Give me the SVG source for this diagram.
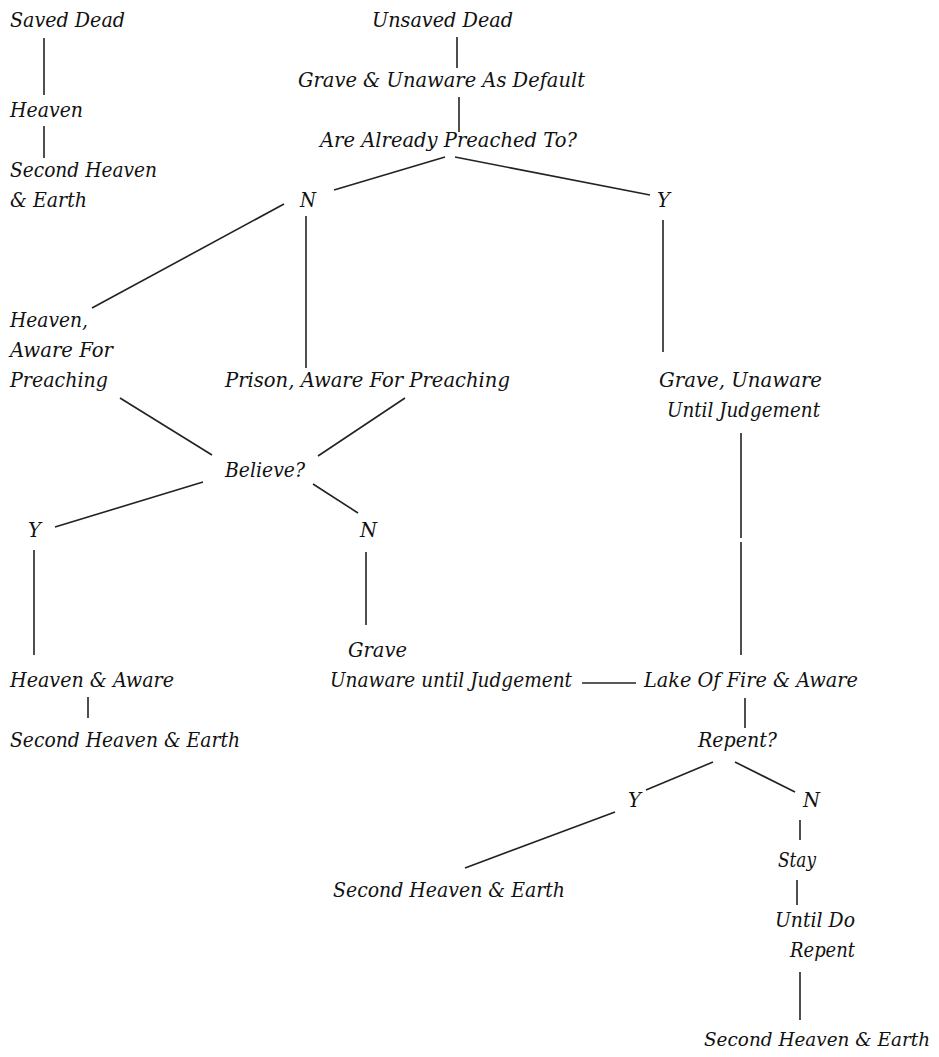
<svg xmlns="http://www.w3.org/2000/svg" width="939" height="1057" viewBox="0 0 939 1057">
<style>
text{font-family:"DejaVu Serif","Liberation Serif",serif;font-style:italic;font-size:20px;fill:#111}
.c line{stroke:#222;stroke-width:1.6}
</style>
<rect width="939" height="1057" fill="#fff"/>
<g class="c" id="connectors">
<line x1="44" y1="38" x2="44" y2="95"/>
<line x1="44" y1="126" x2="44" y2="158"/>
<line x1="457" y1="37" x2="457" y2="68"/>
<line x1="459" y1="97" x2="459" y2="132"/>
<line x1="445" y1="157" x2="334" y2="190"/>
<line x1="455" y1="157" x2="650" y2="195"/>
<line x1="663" y1="220" x2="663" y2="352"/>
<line x1="284" y1="204" x2="92" y2="308"/>
<line x1="306" y1="216" x2="306" y2="368"/>
<line x1="120" y1="398" x2="212" y2="455"/>
<line x1="405" y1="398" x2="318" y2="456"/>
<line x1="203" y1="482" x2="55" y2="527"/>
<line x1="313" y1="484" x2="358" y2="513"/>
<line x1="34" y1="550" x2="34" y2="655"/>
<line x1="366" y1="552" x2="366" y2="625"/>
<line x1="88" y1="697" x2="88" y2="718"/>
<line x1="741" y1="433" x2="741" y2="538"/>
<line x1="741" y1="542" x2="741" y2="655"/>
<line x1="582" y1="683" x2="636" y2="683"/>
<line x1="745" y1="698" x2="745" y2="728"/>
<line x1="713" y1="762" x2="646" y2="790"/>
<line x1="735" y1="762" x2="795" y2="792"/>
<line x1="615" y1="812" x2="465" y2="868"/>
<line x1="800" y1="820" x2="800" y2="840"/>
<line x1="797" y1="880" x2="797" y2="905"/>
<line x1="800" y1="972" x2="800" y2="1020"/>
</g>
<g id="saved-dead"><text x="10" y="27" textLength="115" lengthAdjust="spacingAndGlyphs">Saved Dead</text></g>
<g id="heaven"><text x="10" y="117" textLength="73" lengthAdjust="spacingAndGlyphs">Heaven</text></g>
<g id="second-heaven-1"><text x="10" y="177" textLength="147" lengthAdjust="spacingAndGlyphs">Second Heaven</text><text x="10" y="207" textLength="77" lengthAdjust="spacingAndGlyphs">&amp; Earth</text></g>
<g id="unsaved-dead"><text x="372" y="27" textLength="141" lengthAdjust="spacingAndGlyphs">Unsaved Dead</text></g>
<g id="grave-default"><text x="298" y="87" textLength="287" lengthAdjust="spacingAndGlyphs">Grave &amp; Unaware As Default</text></g>
<g id="preached"><text x="320" y="147" textLength="257" lengthAdjust="spacingAndGlyphs">Are Already Preached To?</text></g>
<g id="n1"><text x="300" y="207" textLength="16" lengthAdjust="spacingAndGlyphs">N</text></g>
<g id="y1"><text x="657" y="207" textLength="13" lengthAdjust="spacingAndGlyphs">Y</text></g>
<g id="heaven-aware-preaching"><text x="10" y="327" textLength="78" lengthAdjust="spacingAndGlyphs">Heaven,</text><text x="10" y="357" textLength="103" lengthAdjust="spacingAndGlyphs">Aware For</text><text x="10" y="387" textLength="98" lengthAdjust="spacingAndGlyphs">Preaching</text></g>
<g id="prison"><text x="225" y="387" textLength="285" lengthAdjust="spacingAndGlyphs">Prison, Aware For Preaching</text></g>
<g id="grave-until"><text x="659" y="387" textLength="163" lengthAdjust="spacingAndGlyphs">Grave,  Unaware</text><text x="667" y="417" textLength="153" lengthAdjust="spacingAndGlyphs">Until Judgement</text></g>
<g id="believe"><text x="225" y="477" textLength="80" lengthAdjust="spacingAndGlyphs">Believe?</text></g>
<g id="y2"><text x="28" y="537" textLength="13" lengthAdjust="spacingAndGlyphs">Y</text></g>
<g id="n2"><text x="360" y="537" textLength="17" lengthAdjust="spacingAndGlyphs">N</text></g>
<g id="grave2"><text x="348" y="657" textLength="59" lengthAdjust="spacingAndGlyphs">Grave</text><text x="330" y="687" textLength="242" lengthAdjust="spacingAndGlyphs">Unaware until Judgement</text></g>
<g id="heaven-aware"><text x="10" y="687" textLength="164" lengthAdjust="spacingAndGlyphs">Heaven &amp; Aware</text></g>
<g id="second-heaven-2"><text x="10" y="747" textLength="230" lengthAdjust="spacingAndGlyphs">Second Heaven &amp; Earth</text></g>
<g id="lake"><text x="644" y="687" textLength="214" lengthAdjust="spacingAndGlyphs">Lake Of Fire &amp; Aware</text></g>
<g id="repent"><text x="698" y="747" textLength="79" lengthAdjust="spacingAndGlyphs">Repent?</text></g>
<g id="y3"><text x="628" y="807" textLength="13" lengthAdjust="spacingAndGlyphs">Y</text></g>
<g id="n3"><text x="803" y="807" textLength="17" lengthAdjust="spacingAndGlyphs">N</text></g>
<g id="second-heaven-3"><text x="333" y="897" textLength="232" lengthAdjust="spacingAndGlyphs">Second Heaven &amp; Earth</text></g>
<g id="stay"><text x="778" y="867" textLength="38" lengthAdjust="spacingAndGlyphs">Stay</text></g>
<g id="until-do"><text x="775" y="927" textLength="80" lengthAdjust="spacingAndGlyphs">Until Do</text><text x="790" y="957" textLength="65" lengthAdjust="spacingAndGlyphs">Repent</text></g>
<g id="second-heaven-4"><text x="704" y="1046" style="font-size:18px" textLength="226" lengthAdjust="spacingAndGlyphs">Second Heaven &amp; Earth</text></g>
</svg>
